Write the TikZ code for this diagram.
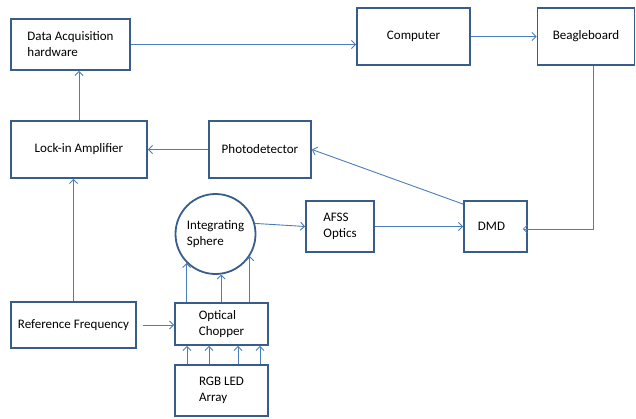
\documentclass[tikz,border=0pt]{standalone}
\usepackage{fontspec}
\setmainfont{Carlito}
\usetikzlibrary{arrows.meta}
\definecolor{boxline}{HTML}{385D8A}
\definecolor{wire}{HTML}{4A7EBB}

\begin{document}
\begin{tikzpicture}[x=1pt, y=-1pt,
  blk/.style={draw=boxline, line width=1.8pt, fill=white, align=left,
    inner sep=0pt, font=\fontsize{13}{16}\selectfont},
  arr/.style={draw=wire, line width=0.9pt, -{Straight Barb[length=4pt,width=8pt]}}]
\useasboundingbox (0,0) rectangle (636,418);

% boxes
\node [blk, minimum width=119pt, minimum height=51pt] (daq) at (70.5,44.5) {Data Acquisition\\hardware};
\node [blk, minimum width=113pt, minimum height=57pt] (computer) at (413.5,36.5) {Computer};
\node [blk, minimum width=97pt, minimum height=57pt] (beagle) at (586,36.5) {Beagleboard};
\node [blk, minimum width=136pt, minimum height=57pt] (lockin) at (79,149.5) {Lock-in Amplifier};
\node [blk, minimum width=102pt, minimum height=57pt] (photo) at (260,149.5) {Photodetector};
\node [blk, circle, minimum size=80pt] (sphere) at (215.5,234) {Integrating\\Sphere};
\node [blk, minimum width=68pt, minimum height=51pt] (afss) at (340,226.5) {AFSS\\Optics};
\node [blk, minimum width=63pt, minimum height=51pt] (dmd) at (495.5,226.5) {DMD\hspace{8pt}};
\node [blk, minimum width=125pt, minimum height=46pt] (ref) at (73.5,325) {Reference Frequency};
\node [blk, minimum width=93pt, minimum height=42pt] (chopper) at (221.5,324) {Optical\\Chopper\hspace{6pt}};
\node [blk, minimum width=93pt, minimum height=51pt] (led) at (221.5,390.5) {RGB LED\\Array};
\coordinate (bend) at (593,229);

% signal paths
\draw [arr] (daq.east) -- (daq.east -| computer.west);
\draw [arr] (computer.east) -- (beagle.west);
\draw [arr, line width=0.7pt] (beagle.south -| bend) -- (bend) -- ([xshift=-5pt,yshift=-2.5pt]dmd.east);
\draw [arr] (lockin.north) -- (lockin.north |- daq.south);
\draw [arr] (photo.west) -- (lockin.east);
\draw [arr] ([yshift=-4pt]dmd.north west) -- (photo.east);
\draw [arr] (afss.east) -- (dmd.west);
\draw [arr] (sphere.15) -- (afss.west);
\draw [arr] (ref.north) -- (ref.north |- lockin.south);
\draw [arr] ([xshift=6pt]ref.east) -- (ref.east -| chopper.west);
\foreach \a in {225,278,327}
  \draw [arr] (sphere.\a |- chopper.north) -- (sphere.\a);
\foreach \dx in {-34.5,-12.5,16.5,38.5}
  \draw [arr] ([xshift=\dx pt]led.north) -- ([xshift=\dx pt]chopper.south);
\end{tikzpicture}
\end{document}
